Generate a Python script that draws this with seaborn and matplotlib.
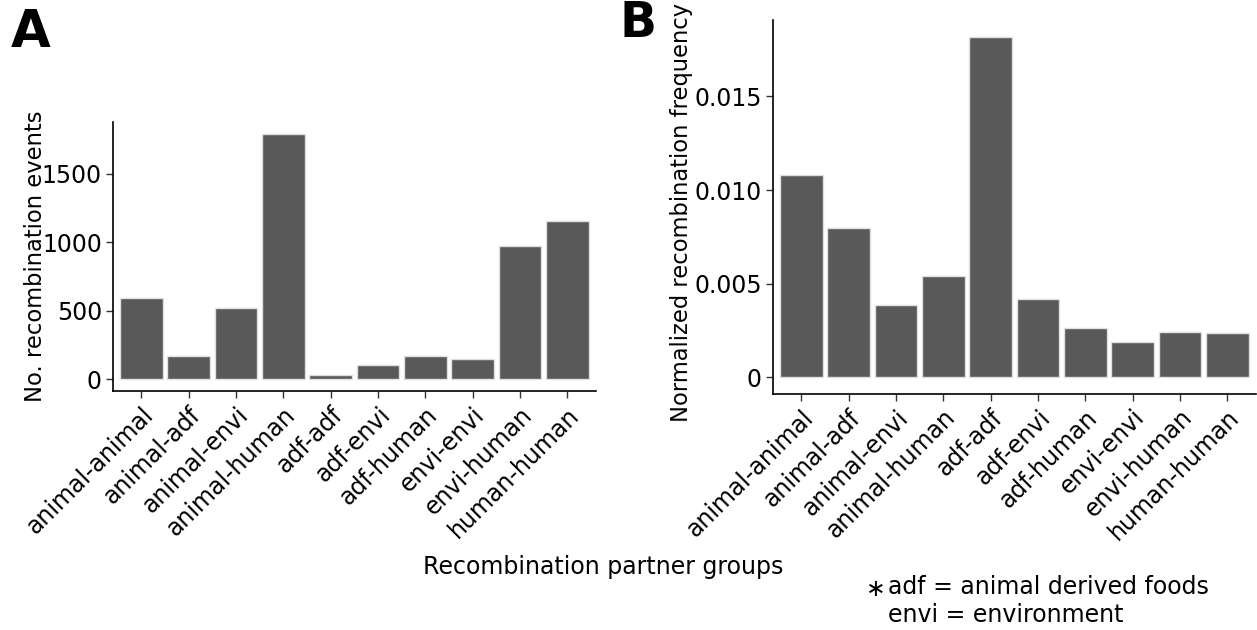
import matplotlib
matplotlib.use("Agg")
import matplotlib.pyplot as plt
import seaborn as sns
import pandas as pd

# Pairwise recombination partner groups
groups = ["animal-animal", "animal-adf", "animal-envi", "animal-human", "adf-adf",
          "adf-envi", "adf-human", "envi-envi", "envi-human", "human-human"]

# Number of recombination events per partner group
events = [592, 172, 519, 1790, 34, 107, 168, 151, 972, 1152]

# Normalized recombination frequency per partner group
frequency = [0.01078, 0.00798, 0.00387, 0.00540, 0.01818,
             0.00417, 0.00261, 0.00187, 0.00238, 0.00235]

ticks_a = [0, 500, 1000, 1500]
tick_labels_a = ["0", "500", "1000", "1500"]
ticks_b = [0, 0.005, 0.010, 0.015]
tick_labels_b = ["0", "0.005", "0.010", "0.015"]

sns.set_theme(style="white")
plt.rcParams["font.family"] = ["DejaVu Sans"]
plt.rcParams["text.color"] = "black"
plt.rcParams["axes.labelcolor"] = "black"

df = pd.DataFrame({"group": groups, "events": events, "frequency": frequency})

fig = plt.figure(figsize=(12.57, 6.30), dpi=100)
ax_a = fig.add_axes([0.0899, 0.3786, 0.384, 0.428])
ax_b = fig.add_axes([0.6150, 0.3746, 0.384, 0.5936])

BAR = "#595959"
EDGE = "#e0e0e0"
FS = 17
FS_LABEL = 16.3


def style_axis(ax, col, ticks, labels, ylabel, pad):
    sns.barplot(data=df, x="group", y=col, color=BAR, width=0.9,
                edgecolor=EDGE, linewidth=1.0, saturation=1, ax=ax)
    top = max(df[col])
    ax.set_ylim(-0.05 * top, 1.05 * top)
    ax.set_xlim(-0.6, len(groups) - 0.4)
    ax.set_yticks(ticks)
    ax.set_yticklabels(labels, fontsize=FS, color="black")
    ax.set_xticks(range(len(groups)))
    ax.set_xticklabels(groups, rotation=45, ha="right", va="top",
                       rotation_mode="anchor", fontsize=FS, color="black")
    ax.set_xlabel("")
    ax.set_ylabel(ylabel, fontsize=FS_LABEL, color="black", labelpad=pad)
    for side in ("top", "right"):
        ax.spines[side].set_visible(False)
    for side in ("left", "bottom"):
        ax.spines[side].set_color("black")
        ax.spines[side].set_linewidth(1.2)
    ax.tick_params(axis="both", which="major", length=5, width=1.0,
                   color="#333333", left=True, bottom=True, pad=3)


style_axis(ax_a, "events", ticks_a, tick_labels_a,
           "No. recombination events", -4)
style_axis(ax_b, "frequency", ticks_b, tick_labels_b,
           "Normalized recombination frequency", 1)
# keep the long label of panel B inside the top edge
ax_b.yaxis.label.set_y(0.485)

fig.text(11 / 1257, 1 - 47 / 630, "A", fontsize=37, fontweight="heavy",
         color="black", ha="left", va="baseline")
fig.text(619 / 1257, 1 - 37 / 630, "B", fontsize=35, fontweight="heavy",
         color="black", ha="left", va="baseline")

fig.text(603 / 1257, 1 - 567 / 630, "Recombination partner groups",
         fontsize=FS, ha="center", va="center")
fig.text(866 / 1257, 1 - 589 / 630, "\u2217", fontsize=FS, ha="left", va="center")
fig.text(888 / 1257, 1 - 587 / 630, "adf = animal derived foods",
         fontsize=FS, ha="left", va="center")
fig.text(888 / 1257, 1 - 615 / 630, "envi = environment",
         fontsize=FS, ha="left", va="center")

fig.savefig("out.png", dpi=100, facecolor="white")
